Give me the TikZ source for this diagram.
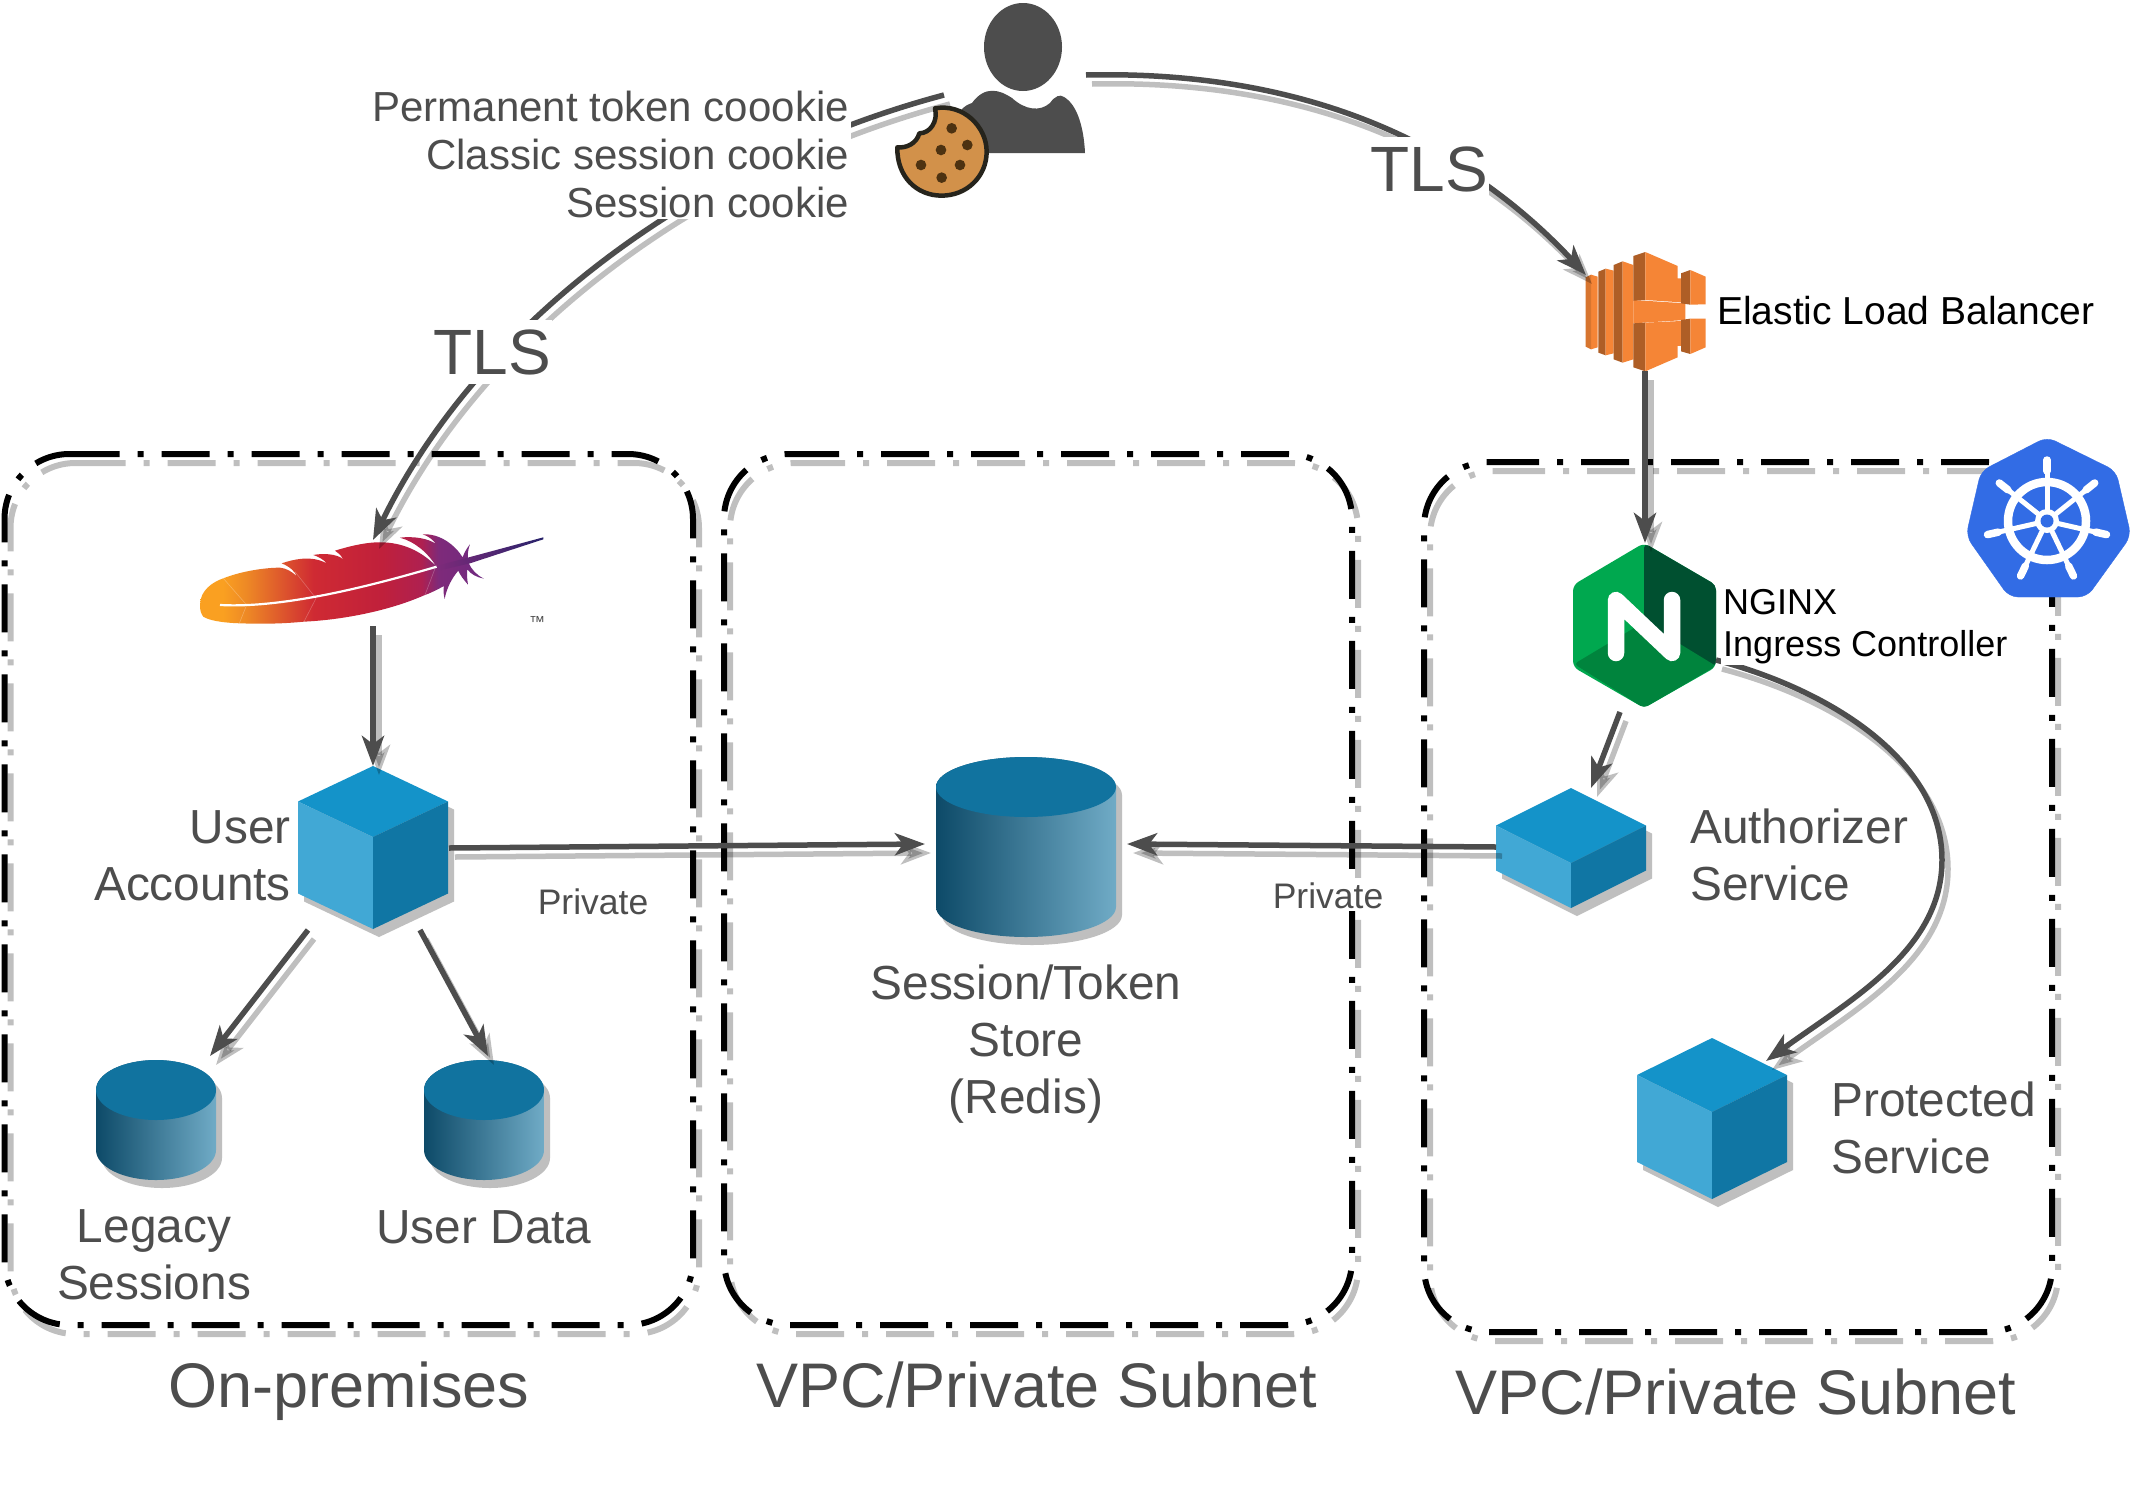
\documentclass[tikz,border=0pt]{standalone}
\usepackage{fontspec}
\setmainfont{Liberation Sans}
\usetikzlibrary{arrows.meta}
\definecolor{ink}{HTML}{4D4D4D}
\definecolor{dropgrey}{HTML}{BFBFBF}
\definecolor{ctop}{HTML}{1493C9}
\definecolor{cleft}{HTML}{41A8D5}
\definecolor{cright}{HTML}{1076A4}
\definecolor{cyltop}{HTML}{11739F}
\definecolor{cyll}{HTML}{0D4A68}
\definecolor{cylr}{HTML}{70ABC6}
\definecolor{elbo}{HTML}{F58536}
\definecolor{elbd}{HTML}{AE5E26}
\definecolor{ngl}{HTML}{00A84F}
\definecolor{ngd}{HTML}{005030}
\definecolor{ngb}{HTML}{00843D}
\definecolor{kube}{HTML}{326CE5}
\definecolor{cook}{HTML}{D2914A}
\definecolor{cookl}{HTML}{26241C}
\definecolor{cookd}{HTML}{4D3211}
\definecolor{fa}{HTML}{FAA021}
\definecolor{fb}{HTML}{EE8A25}
\definecolor{fc}{HTML}{CF2A33}
\definecolor{fd}{HTML}{C0203B}
\definecolor{fe}{HTML}{AF2050}
\definecolor{ff}{HTML}{7E2A7A}
\definecolor{fg}{HTML}{6F2A80}
\definecolor{fh}{HTML}{28236B}
\pgfdeclarehorizontalshading{feathershade}{100bp}{color(0bp)=(fa); color(29bp)=(fa); color(33bp)=(fb); color(45bp)=(fc); color(57bp)=(fd); color(64bp)=(fe); color(67bp)=(ff); color(75bp)=(fg); color(100bp)=(fg)}
\tikzset{
  anchorbox/.style={inner sep=0pt,outer sep=0pt,minimum size=0pt},
  zone/.style={line width=6pt,dash pattern=on 48pt off 18pt on 6pt off 18pt},
  conn/.style={line width=5.5pt,draw=ink,-{Stealth[length=30pt,width=22pt,inset=8pt]}},
  connshade/.style={line width=5.5pt,draw=black,opacity=.25,-{Stealth[length=30pt,width=22pt,inset=8pt]},transform canvas={xshift=6pt,yshift=-9pt}},
  label/.style={text=ink,inner sep=0pt,anchor=base},
  patch/.style={fill=white,inner sep=3pt,text=ink,anchor=base},
  fs47/.style={font=\fontsize{47.8}{57}\selectfont},
  fs42/.style={font=\fontsize{42}{48}\selectfont},
  fs62/.style={font=\fontsize{64}{70}\selectfont},
  fs36/.style={font=\fontsize{36}{42}\selectfont},
}
\newcommand{\zonebox}[4]{% left top right bottom
  \draw[zone,draw=black,opacity=.25,transform canvas={xshift=6pt,yshift=-9pt},rounded corners=65pt] (#1+67,#2) -- (#3,#2) -- (#3,#4) -- (#1,#4) -- (#1,#2) -- (#1+67,#2);
  \draw[zone,draw=black,rounded corners=65pt] (#1+67,#2) -- (#3,#2) -- (#3,#4) -- (#1,#4) -- (#1,#2) -- (#1+67,#2);}
% apexx apexy halfwidth topdy(half top face height) sideheight
\newcommand{\cube}[5]{%
  \fill[dropgrey] (#1+6,#2+8) -- (#1+#3+6,#2+#4+8) -- (#1+#3+6,#2+#4+#5+8) -- (#1+6,#2+2*#4+#5+8) -- (#1-#3+6,#2+#4+#5+8) -- (#1-#3+6,#2+#4+8) -- cycle;
  \fill[ctop] (#1,#2) -- (#1+#3,#2+#4) -- (#1,#2+2*#4) -- (#1-#3,#2+#4) -- cycle;
  \fill[cleft] (#1-#3,#2+#4) -- (#1,#2+2*#4) -- (#1,#2+2*#4+#5) -- (#1-#3,#2+#4+#5) -- cycle;
  \fill[cright] (#1+#3,#2+#4) -- (#1,#2+2*#4) -- (#1,#2+2*#4+#5) -- (#1+#3,#2+#4+#5) -- cycle;}
% cx topcy rx ry h
\newcommand{\cyl}[5]{%
  \fill[dropgrey] (#1+#3+6,#2+8) -- (#1+#3+6,#2+#5+8) arc[start angle=0,end angle=180,x radius=#3pt,y radius=#4pt] -- (#1-#3+6,#2+8) arc[start angle=180,end angle=360,x radius=#3pt,y radius=#4pt] -- cycle;
  \shade[left color=cyll,right color=cylr] (#1+#3,#2) -- (#1+#3,#2+#5) arc[start angle=0,end angle=180,x radius=#3pt,y radius=#4pt] -- (#1-#3,#2) arc[start angle=180,end angle=360,x radius=#3pt,y radius=#4pt] -- cycle;
  \fill[cyltop] (#1,#2) ellipse[x radius=#3pt,y radius=#4pt];}
\begin{document}
\begin{tikzpicture}[x=1pt,y=1pt,yscale=-1]
\useasboundingbox (0,0) rectangle (2142,1494);
\fill[white] (0,0) rectangle (2142,1494);

% zones
\zonebox{4.5}{454}{693}{1325}
\zonebox{724}{454}{1352}{1325}
\zonebox{1424}{462}{2052}{1332}

% anchor nodes for the icons
\node[anchorbox,minimum width=142pt,minimum height=152pt] (user) at (1018,76) {};
\node[anchorbox,minimum width=120pt,minimum height=120pt] (elb) at (1645,311) {};
\node[anchorbox,minimum width=143pt,minimum height=165pt] (nginx) at (1645,625.5) {};
\node[anchorbox,minimum width=345pt,minimum height=86pt] (feather) at (373,583) {};
\node[anchorbox,minimum width=149pt,minimum height=163pt] (accounts) at (373,847.5) {};
\node[anchorbox,minimum width=150pt,minimum height=120pt] (authz) at (1571,848) {};
\node[anchorbox,minimum width=150pt,minimum height=161pt] (protected) at (1712,1118) {};
\node[anchorbox,minimum width=180pt,minimum height=180pt] (redis) at (1026,847) {};
\node[anchorbox,minimum width=120pt,minimum height=120pt] (legacy) at (156,1120) {};
\node[anchorbox,minimum width=120pt,minimum height=120pt] (userdata) at (484,1120) {};
\coordinate (userL) at (944,95);
\coordinate (userR) at (1086,75);
\coordinate (elbIn) at (1586,275);
\coordinate (featherIn) at (373,540);
\coordinate (redisW) at (925,844);
\coordinate (redisE) at (1127,844);
\coordinate (accE) at (449,848);
\coordinate (authE) at (1496,847);
\coordinate (accSW) at (308,930);
\coordinate (accSE) at (420,930);
\coordinate (legIn) at (210,1056);
\coordinate (udIn) at (488,1056);
\coordinate (ngS) at (1620,712);
\coordinate (authIn) at (1591,788);
\coordinate (ngE) at (1716,660);
\coordinate (protIn) at (1766,1061);

% cubes and cylinders
\cube{373}{766}{75}{35.5}{92}
\cube{1571}{788}{75}{37.5}{45}
\cube{1712}{1038}{75}{37}{87}
\cyl{1026}{787}{90}{30}{120}
\cyl{156}{1090}{60}{30}{60}
\cyl{484}{1090}{60}{30}{60}

% ELB
\begin{scope}[shift={(1580,240)},scale=0.3333]
\fill[elbo] (33,104)--(53,110)--(53,322)--(33,328)--cycle;
\fill[elbo!88!black] (17,112)--(33,104)--(33,328)--(17,320)--cycle;
\fill[elbd] (55,95)--(77,86)--(77,346)--(55,338)--cycle;
\fill[elbo] (77,86)--(101,92)--(101,340)--(77,346)--cycle;
\fill[elbd] (101,75)--(128,64)--(128,368)--(101,358)--cycle;
\fill[elbo] (128,64)--(160,75)--(160,358)--(128,368)--cycle;
\fill[elbo] (160,180)--(316,190)--(316,240)--(160,250)--cycle;
\fill[elbd] (160,48)--(196,36)--(196,180)--(160,182)--cycle;
\fill[elbo] (196,36)--(293,78)--(293,115)--(303,115)--(303,187)--(196,180)--cycle;
\fill[elbd] (160,250)--(196,248)--(196,394)--(160,382)--cycle;
\fill[elbo] (196,248)--(303,243)--(303,318)--(293,318)--(293,352)--(196,394)--cycle;
\fill[elbd] (303,100)--(331,90)--(331,194)--(303,190)--cycle;
\fill[elbo] (331,90)--(377,110)--(377,193)--(331,194)--cycle;
\fill[elbd] (303,240)--(331,236)--(331,342)--(303,334)--cycle;
\fill[elbo] (331,236)--(377,236)--(377,322)--(331,342)--cycle;
\end{scope}

% feather
\begin{scope}[shift={(180,500)},scale=0.3333]
\shade[shading=feathershade]
  (60,315) .. controls (60,270) and (100,245) .. (130,235)
  .. controls (180,215) and (250,203) .. (300,203)
  .. controls (320,205) and (335,215) .. (350,228)
  .. controls (345,215) and (330,200) .. (305,190)
  .. controls (340,178) and (395,165) .. (440,190)
  .. controls (430,178) and (415,170) .. (400,165)
  .. controls (425,160) and (470,160) .. (490,178)
  .. controls (482,165) and (475,158) .. (465,152)
  .. controls (520,135) and (570,125) .. (610,127)
  .. controls (680,130) and (730,160) .. (768,198)
  .. controls (745,160) and (705,125) .. (660,113)
  .. controls (700,108) and (745,115) .. (768,132)
  .. controls (760,120) and (745,108) .. (728,103)
  .. controls (780,100) and (825,135) .. (848,172)
  .. controls (852,160) and (860,145) .. (870,133)
  .. controls (862,155) and (862,170) .. (866,188)
  .. controls (875,210) and (890,225) .. (912,236)
  .. controls (890,232) and (872,222) .. (862,208)
  .. controls (860,225) and (862,240) .. (864,254)
  .. controls (852,240) and (840,225) .. (835,212)
  .. controls (815,235) and (800,265) .. (794,297)
  .. controls (790,280) and (790,268) .. (792,258)
  .. controls (770,270) and (750,280) .. (730,287)
  .. controls (620,335) and (480,360) .. (372,365)
  .. controls (300,372) and (240,372) .. (180,370)
  .. controls (120,368) and (85,360) .. (70,350)
  .. controls (62,340) and (60,330) .. (60,315) -- cycle;
\draw[white,opacity=.25,line width=.6pt] (130,235)--(200,315)--(178,370) (345,215)--(408,295)--(372,365) (768,198)--(735,285);
\draw[white,line width=2.2pt] (120,315) .. controls (300,325) and (550,265) .. (770,200);
\shade[left color=ff,right color=fh] (770,198) -- (1090,112) -- (1090,118) -- (870,190) -- (775,212) -- cycle;
\end{scope}
\node[text=ink,font=\fontsize{16}{16}\selectfont,inner sep=0pt] (tm) at (537,622) {™};

% NGINX
\fill[ngl,rounded corners=6pt] (1644,543)--(1716,585)--(1716,667)--(1644,708)--(1573,667)--(1573,585)--cycle;
\fill[ngd,rounded corners=5pt] (1644,543)--(1716,585)--(1716,667)--(1644,622)--cycle;
\fill[ngb,rounded corners=4pt] (1574,664)--(1644,622)--(1716,666)--(1644,708)--cycle;
\draw[white,line width=16.5pt,line cap=round,line join=round] (1616,653)--(1616,600)--(1672,653)--(1672,600);

% Kubernetes
\begin{scope}[shift={(-1,-1)}]
\fill[kube,rounded corners=9pt,draw=kube] (2048,438)--(2117,472)--(2132,537)--(2088,598)--(2010,598)--(1967,537)--(1982,472)--cycle;
\draw[white,line width=8.5pt] (2048,522) circle[radius=39pt];
\fill[white] (2048,522) circle[radius=12pt];
\foreach \a in {0,...,6}{
  \draw[white,line width=5pt,line cap=round] (2048,522) -- ++({-90+\a*360/7}:60pt);
  \draw[white,line width=7.5pt,line cap=round] (2048,522) ++({-90+\a*360/7}:50pt) -- ++({-90+\a*360/7}:11pt);
}
\fill[kube] (2048,522) circle[radius=6.5pt];
\end{scope}

% connectors
\foreach \st in {connshade,conn}{
  \draw[\st] (userL) .. controls (700,160) and (480,320) .. (featherIn);
  \draw[\st] (userR) .. controls (1300,70) and (1460,140) .. (elbIn);
  \draw[\st] (elb.south) -- (nginx.north);
  \draw[\st] (feather.south) -- (accounts.north);
  \draw[\st] (accE) -- (redisW);
  \draw[\st] (authE) -- (redisE);
  \draw[\st] (accSW) -- (legIn);
  \draw[\st] (accSE) -- (udIn);
  \draw[\st] (ngS) -- (authIn);
  \draw[\st] (ngE) .. controls (1830,690) and (1942,760) .. (1942,860) .. controls (1942,950) and (1850,1000) .. (protIn);
}

% person
\fill[ink] (1023,47) ellipse[x radius=39pt,y radius=44pt];
\fill[ink] (950,153) .. controls (950,130) and (955,108) .. (972,103)
  .. controls (985,85) and (1000,90) .. (1012,98) .. controls (1025,110) and (1040,112) .. (1050,103)
  .. controls (1055,96) and (1060,94) .. (1064,97) .. controls (1078,105) and (1084,130) .. (1085,153) -- cycle;

% cookie
\begin{scope}[shift={(850,0)},scale=0.3333]
\filldraw[fill=cook,draw=cookl,line width=4.5pt,line join=round]
  (255,325) .. controls (340,310) and (410,380) .. (410,455)
  .. controls (410,530) and (350,587) .. (275,587)
  .. controls (200,587) and (140,530) .. (142,442)
  .. controls (170,445) and (200,430) .. (208,400)
  .. controls (240,400) and (265,365) .. (255,325) -- cycle;
\foreach \cx/\cy in {305/385,352/435,273/450,213/495,330/495,275/533}
  \fill[cookd] (\cx,\cy) circle[radius=16pt];
\end{scope}

% text
\node[patch,anchor=base east,align=right,inner sep=2pt,fs42] (cookies) at (851,217) {Permanent token coookie\\Classic session cookie\\Session cookie};
\node[patch,inner xsep=1pt,inner ysep=9pt,fs62] (tlsL) at (492,374) {TLS};
\node[patch,inner xsep=1pt,inner ysep=9pt,fs62] (tlsR) at (1429,191) {TLS};
\node[anchor=base west,inner sep=0pt,font=\fontsize{39}{42}\selectfont] (elbt) at (1717,324) {Elastic Load Balancer};
\node[anchor=base west,inner sep=2pt,fill=white,fs36] (ng1) at (1721,614) {NGINX};
\node[anchor=base west,inner sep=2pt,fill=white,fs36] (ng2) at (1721,656) {Ingress Controller};
\node[label,anchor=base east,align=right,fs47] (t1) at (291,900) {User\\Accounts};
\node[label,anchor=base west,align=left,fs47] (t2) at (1690,900) {Authorizer\\Service};
\node[label,anchor=base west,align=left,fs47] (t3) at (1831,1173) {Protected\\Service};
\node[label,align=center,fs47] (t4) at (1026,1113) {Session/Token\\Store\\(Redis)};
\node[label,align=center,fs47] (t5) at (154,1299) {Legacy\\Sessions};
\node[label,fs47] (t6) at (484,1243) {User Data};
\node[patch,font=\fontsize{35.5}{42}\selectfont] (p1) at (593,914) {Private};
\node[patch,font=\fontsize{35.5}{42}\selectfont] (p2) at (1328,908) {Private};
\node[label,font=\fontsize{63}{70}\selectfont] (z1) at (349,1407) {On-premises};
\node[label,font=\fontsize{63}{70}\selectfont] (z2) at (1037,1407) {VPC/Private Subnet};
\node[label,font=\fontsize{63}{70}\selectfont] (z3) at (1736,1414) {VPC/Private Subnet};
\end{tikzpicture}
\end{document}
